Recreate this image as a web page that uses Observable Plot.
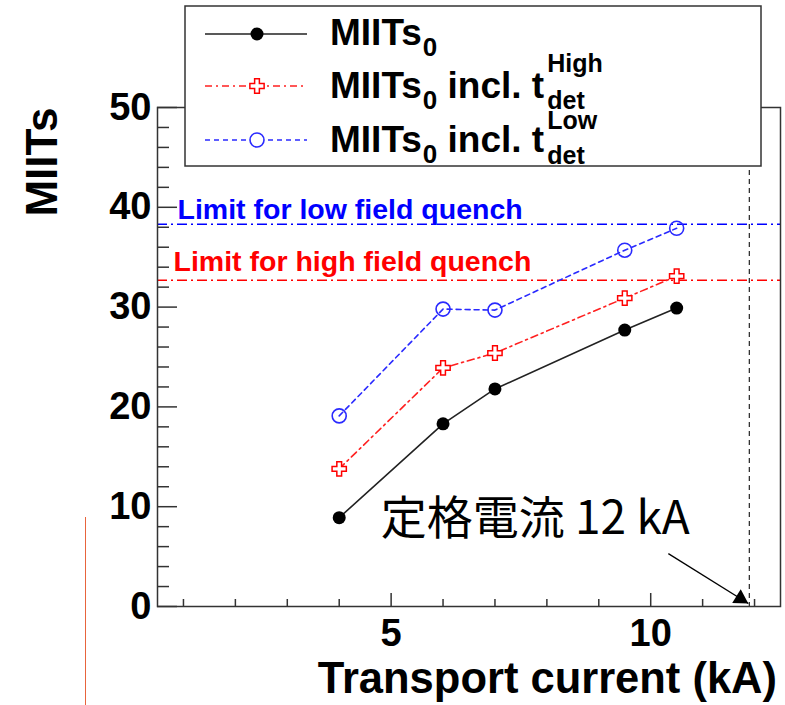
<!DOCTYPE html>
<html><head><meta charset="utf-8">
<script src="https://cdn.jsdelivr.net/npm/d3@7"></script>
<script src="https://cdn.jsdelivr.net/npm/@observablehq/plot@0.6"></script>
<style>body{margin:0;background:#fff}</style>
</head><body><div id="chart"></div>
<script>
// ---- data ----
const current = [4, 6, 7, 9.5, 10.5];                 // kA
const miits0 = [8.9, 18.3, 21.8, 27.7, 29.9];         // MIITs_0
const miitsHigh = [13.8, 23.9, 25.4, 30.9, 33.1];     // MIITs_0 incl. t_det^High
const miitsLow = [19.1, 29.8, 29.7, 35.7, 37.9];      // MIITs_0 incl. t_det^Low
const limitLow = [38.3];
const limitHigh = [32.7];
const ratedLine = [11.9];
const limitLabels = ["Limit for low field quench", "Limit for high field quench"];
const yMajor = [0, 10, 20, 30, 40, 50];
const yMinor = [2, 4, 6, 8, 12, 14, 16, 18, 22, 24, 26, 28, 32, 34, 36, 38, 42, 44, 46, 48];
const xMajor = [5, 10];
const xMinor = [1, 2, 3, 4, 6, 7, 8, 9, 11, 12];
const noteText = ["定格電流 12 kA"];
const noteAt = [4.8, 7.3];
const arrowFrom = [10.34, 5.3];
const arrowTo = [11.88, 0.3];

const rows = (ys) => current.map((c, i) => ({x: c, y: ys[i]}));
const black = rows(miits0), red = rows(miitsHigh), blue = rows(miitsLow);
const FONT = "Liberation Sans, Arial, Helvetica, sans-serif";

const svg = Plot.plot({
  width: 785, height: 705,
  marginLeft: 157, marginTop: 107, marginRight: 5, marginBottom: 99,
  style: {fontFamily: FONT, background: "white", color: "#000"},
  x: {domain: [0.5, 12.5]},
  y: {domain: [0, 50]},
  marks: [
    Plot.ruleX(ratedLine, {stroke: "#333", strokeWidth: 1.3, strokeDasharray: "5,4"}),
    Plot.ruleY(limitLow, {stroke: "#0000ff", strokeWidth: 1.5, strokeDasharray: "10,4,2,4"}),
    Plot.ruleY(limitHigh, {stroke: "#ff0000", strokeWidth: 1.5, strokeDasharray: "10,4,2,4"}),
    Plot.text(limitLow, {y: d => d, text: () => limitLabels[0], frameAnchor: "left", textAnchor: "start", lineAnchor: "bottom", dx: 20, dy: -5, fill: "#0000ff", fontSize: 28.5, fontWeight: "bold"}),
    Plot.text(limitHigh, {y: d => d, text: () => limitLabels[1], frameAnchor: "left", textAnchor: "start", lineAnchor: "bottom", dx: 16, dy: -9, fill: "#ff0000", fontSize: 28.5, fontWeight: "bold"}),
    Plot.line(blue, {x: "x", y: "y", stroke: "#2a2aff", strokeWidth: 1.6, strokeDasharray: "5,4"}),
    Plot.line(red, {x: "x", y: "y", stroke: "#ff2020", strokeWidth: 1.6, strokeDasharray: "7,4,2,4"}),
    Plot.line(black, {x: "x", y: "y", stroke: "#222", strokeWidth: 1.6}),
    Plot.dot(blue, {x: "x", y: "y", r: 7, stroke: "#2a2aff", strokeWidth: 1.6, fill: "none"}),
    Plot.dot(red, {x: "x", y: "y", r: 6, symbol: "cross", stroke: "#ff0000", strokeWidth: 1.5, fill: "white"}),
    Plot.dot(black, {x: "x", y: "y", r: 6.5, fill: "#000", stroke: "none"}),
    Plot.frame({stroke: "#333", strokeWidth: 1.5}),
    // inward ticks
    Plot.axisY({ticks: yMajor, tickSize: 20, dx: 20, text: null, label: null, stroke: "#333", strokeWidth: 1.5}),
    Plot.axisY({ticks: yMinor, tickSize: 12, dx: 12, text: null, label: null, stroke: "#333", strokeWidth: 1.5}),
    Plot.axisX({ticks: xMajor, tickSize: 13, dy: -13, text: null, label: null, stroke: "#333", strokeWidth: 1.5}),
    Plot.axisX({ticks: xMinor, tickSize: 7, dy: -7, text: null, label: null, stroke: "#333", strokeWidth: 1.5}),
    // tick labels
    Plot.axisY({ticks: yMajor, tickSize: 0, tickPadding: 6, label: null, fontSize: 38, fontWeight: "bold", fill: "#000"}),
    Plot.axisX({ticks: xMajor, tickSize: 0, tickPadding: 13, label: null, fontSize: 38, fontWeight: "bold", fill: "#000"}),
    // annotation
    Plot.link([0], {x1: () => arrowFrom[0], y1: () => arrowFrom[1], x2: () => arrowTo[0], y2: () => arrowTo[1], stroke: "#000", strokeWidth: 1.3}),
    Plot.dot([0], {x: () => arrowTo[0], y: () => arrowTo[1], symbol: "triangle", r: 6, rotate: 122, fill: "#000", dx: -7.9, dy: -4.9}),
    Plot.text(noteText, {x: () => noteAt[0], y: () => noteAt[1], text: d => d, textAnchor: "start", lineAnchor: "bottom", fontSize: 46, fontFamily: "Noto Sans CJK JP", fill: "#000"})
  ]
});
document.getElementById("chart").appendChild(svg);

const s = d3.select(svg);
// axis titles
s.append("text").attr("transform", "translate(57,162) rotate(-90)").attr("text-anchor", "middle")
  .attr("font-family", FONT).attr("font-weight", "bold").attr("font-size", 44).attr("fill", "#000").text("MIITs");
s.append("text").attr("x", 777).attr("y", 693).attr("text-anchor", "end")
  .attr("font-family", FONT).attr("font-weight", "bold").attr("font-size", 43.5).attr("fill", "#000").text("Transport current (kA)");
// stray line at left
s.append("line").attr("x1", 85.5).attr("x2", 85.5).attr("y1", 517).attr("y2", 705).attr("stroke", "#e8643c").attr("stroke-width", 1);

// legend
const lg = s.append("g").attr("font-family", FONT).attr("font-weight", "bold").attr("fill", "#000").attr("text-anchor", "start");
lg.append("rect").attr("x", 185).attr("y", 6).attr("width", 576).attr("height", 160).attr("fill", "white").attr("stroke", "#333").attr("stroke-width", 1.5);
function put(txt, x, y, size) {
  const t = lg.append("text").attr("x", x).attr("y", y).attr("font-size", size).attr("text-anchor", "start").text(txt);
  return x + t.node().getComputedTextLength();
}
function row(yl, yBase, color, dash, marker, sup, supDy, subDy) {
  lg.append("line").attr("x1", 205).attr("x2", 307).attr("y1", yl).attr("y2", yl).attr("stroke", color).attr("stroke-width", 1.6).attr("stroke-dasharray", dash);
  marker(257, yl);
  let x = put("MIITs", 330, yBase, 37);
  x = put("0", x + 1, yBase + 11, 26);
  if (sup) {
    x = put("\u00a0incl.\u00a0t", x, yBase, 37);
    put(sup, x + 3, yBase + supDy, 25);
    put("det", x + 3, yBase + subDy, 25);
  }
}
row(34, 45, "#222", null, (x, y) => lg.append("circle").attr("cx", x).attr("cy", y).attr("r", 6.5).attr("fill", "#000"));
row(86, 98, "#ff2020", "7,4,2,4", (x, y) => lg.append("path").attr("d", d3.symbol(d3.symbolCross, 113)()).attr("transform", `translate(${x},${y})`).attr("fill", "white").attr("stroke", "#ff0000").attr("stroke-width", 1.5), "High", -26, 11);
row(140, 152, "#2a2aff", "5,4", (x, y) => lg.append("circle").attr("cx", x).attr("cy", y).attr("r", 7).attr("fill", "white").attr("stroke", "#2a2aff").attr("stroke-width", 1.6), "Low", -23, 12);
</script>
</body></html>
